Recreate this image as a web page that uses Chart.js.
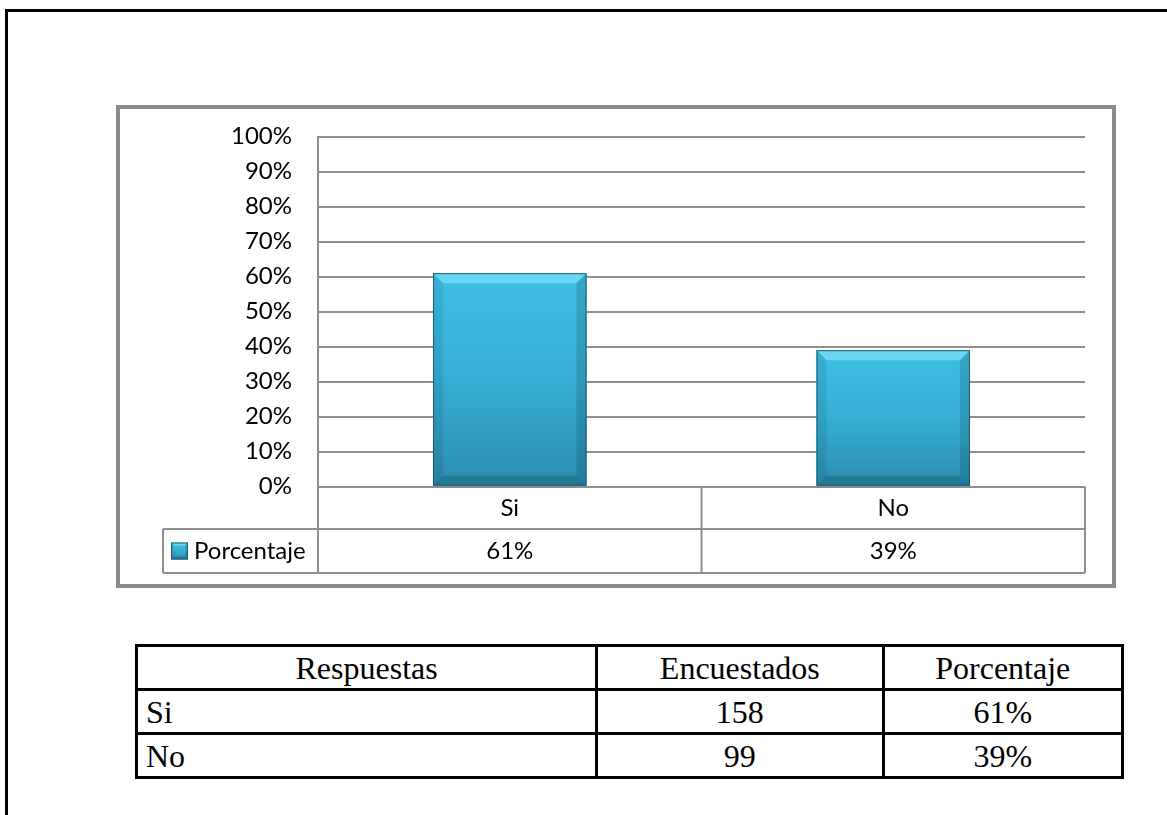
<!DOCTYPE html>
<html lang="es">
<head>
<meta charset="utf-8">
<title>Porcentaje</title>
<script src="https://cdn.jsdelivr.net/npm/chart.js@4/dist/chart.umd.min.js"></script>
<style>
  html, body { margin: 0; padding: 0; background: #fff; width: 1167px; height: 815px; overflow: hidden; }
  .page-frame {
    position: absolute; left: 5px; top: 9px; width: 1300px; height: 900px;
    border-left: 3px solid #000; border-top: 3px solid #000; box-sizing: border-box;
  }
  .chart-frame {
    position: absolute; left: 116px; top: 105px; width: 1000px; height: 483px;
    border: 4px solid #8c8c8c; box-sizing: border-box; background: #fff;
  }
  .chart-frame canvas { position: absolute; left: 0; top: 0; }
  table.datos {
    position: absolute; left: 135px; top: 644px; width: 989px;
    border-collapse: collapse; font-family: "Liberation Serif", "Times New Roman", serif;
    font-size: 32px; color: #000;
  }
  table.datos td { border: 3px solid #000; height: 44px; padding: 0 8px; text-align: center; vertical-align: middle; line-height: 1; box-sizing: border-box; }
  table.datos td.izq { text-align: left; }
</style>
</head>
<body>
<div class="page-frame"></div>
<div class="chart-frame"><canvas id="grafico" width="992" height="475"></canvas></div>
<table class="datos">
  <colgroup><col style="width:462px"><col style="width:287px"><col style="width:240px"></colgroup>
  <tbody id="tabla-cuerpo"></tbody>
</table>
<script>
// Respuestas de la encuesta
const categorias = ['Si', 'No'];
const encuestados = [158, 99];
const porcentajes = [61, 39];
const serieNombre = 'Porcentaje';
const encabezados = ['Respuestas', 'Encuestados', 'Porcentaje'];

const FUENTE = 'Lato, "Open Sans", sans-serif';
const GRIS = '#8e8e8e';

// Tabla de resultados bajo el gráfico
const cuerpo = document.getElementById('tabla-cuerpo');
const filaEnc = document.createElement('tr');
encabezados.forEach(t => { const td = document.createElement('td'); td.textContent = t; filaEnc.appendChild(td); });
cuerpo.appendChild(filaEnc);
categorias.forEach((c, i) => {
  const tr = document.createElement('tr');
  [[c, 'izq'], [String(encuestados[i]), ''], [porcentajes[i] + '%', '']].forEach(([t, cls]) => {
    const td = document.createElement('td'); td.textContent = t; if (cls) td.className = cls; tr.appendChild(td);
  });
  cuerpo.appendChild(tr);
});

// Relleno con degradado y bisel de las columnas
function dibujarBisel(ctx, l, t, r, b, bev) {
  const g = ctx.createLinearGradient(0, t, 0, b);
  g.addColorStop(0, '#40c0e4');
  g.addColorStop(0.5, '#37aed3');
  g.addColorStop(1, '#2b8dad');
  ctx.fillStyle = g;
  ctx.fillRect(l, t, r - l, b - t);
  // cara superior
  ctx.fillStyle = 'rgba(140,235,255,0.55)';
  ctx.beginPath(); ctx.moveTo(l, t); ctx.lineTo(r, t); ctx.lineTo(r - bev, t + bev); ctx.lineTo(l + bev, t + bev); ctx.closePath(); ctx.fill();
  // caras laterales
  ctx.fillStyle = 'rgba(0,40,60,0.10)';
  ctx.beginPath(); ctx.moveTo(l, t); ctx.lineTo(l + bev, t + bev); ctx.lineTo(l + bev, b - bev); ctx.lineTo(l, b); ctx.closePath(); ctx.fill();
  ctx.fillStyle = 'rgba(0,40,60,0.16)';
  ctx.beginPath(); ctx.moveTo(r, t); ctx.lineTo(r - bev, t + bev); ctx.lineTo(r - bev, b - bev); ctx.lineTo(r, b); ctx.closePath(); ctx.fill();
  // cara inferior
  ctx.fillStyle = 'rgba(0,40,60,0.22)';
  ctx.beginPath(); ctx.moveTo(l, b); ctx.lineTo(r, b); ctx.lineTo(r - bev, b - bev); ctx.lineTo(l + bev, b - bev); ctx.closePath(); ctx.fill();
  ctx.strokeStyle = 'rgba(25,85,105,0.9)';
  ctx.lineWidth = 1;
  ctx.strokeRect(l + 0.5, t + 0.5, r - l - 1, b - t - 1);
}

const estiloColumnas = {
  id: 'estiloColumnas',
  afterDatasetsDraw(chart) {
    const ctx = chart.ctx;
    const meta = chart.getDatasetMeta(0);
    ctx.save();
    meta.data.forEach(bar => {
      const p = bar.getProps(['x', 'y', 'base', 'width'], true);
      dibujarBisel(ctx, p.x - p.width / 2, p.y, p.x + p.width / 2, p.base, 10);
    });
    ctx.restore();
  }
};

// Tabla de datos del gráfico (fila de valores y leyenda)
const tablaDatos = {
  id: 'tablaDatos',
  afterDraw(chart) {
    const ctx = chart.ctx;
    const area = chart.chartArea;
    const xs = chart.scales.x;
    const fila1 = area.bottom + 42.3;
    const fila2 = fila1 + 44;
    const izqLeyenda = 43;
    ctx.save();
    ctx.strokeStyle = GRIS;
    ctx.lineWidth = 2;
    ctx.beginPath();
    // verticales
    ctx.moveTo(area.left, area.bottom); ctx.lineTo(area.left, fila2);
    ctx.moveTo(area.right, area.bottom); ctx.lineTo(area.right, fila2);
    for (let i = 1; i < categorias.length; i++) {
      const xm = (xs.getPixelForValue(i - 1) + xs.getPixelForValue(i)) / 2;
      ctx.moveTo(xm, area.bottom); ctx.lineTo(xm, fila2);
    }
    ctx.moveTo(izqLeyenda, fila1); ctx.lineTo(izqLeyenda, fila2);
    // horizontales
    ctx.moveTo(izqLeyenda, fila1); ctx.lineTo(area.right, fila1);
    ctx.moveTo(izqLeyenda, fila2); ctx.lineTo(area.right, fila2);
    ctx.stroke();

    // valores
    ctx.fillStyle = '#000';
    ctx.font = '24px ' + FUENTE;
    ctx.textAlign = 'center';
    ctx.textBaseline = 'middle';
    const yc = (fila1 + fila2) / 2;
    porcentajes.forEach((v, i) => ctx.fillText(v + '%', xs.getPixelForValue(i), yc));

    // leyenda
    dibujarBisel(ctx, 51, yc - 8.5, 68, yc + 8.5, 3);
    ctx.fillStyle = '#000';
    ctx.textAlign = 'left';
    ctx.fillText(serieNombre, 74, yc);
    ctx.restore();
  }
};

new Chart(document.getElementById('grafico'), {
  type: 'bar',
  data: {
    labels: categorias,
    datasets: [{
      label: serieNombre,
      data: porcentajes,
      backgroundColor: '#37aed3',
      borderWidth: 0,
      barPercentage: 0.4,
      categoryPercentage: 1.0
    }]
  },
  options: {
    responsive: false,
    animation: false,
    layout: { padding: { top: 27.7, right: 27, left: 0, bottom: 0 } },
    plugins: { legend: { display: false }, tooltip: { enabled: false } },
    scales: {
      x: {
        grid: { display: false, drawTicks: false },
        border: { display: false },
        ticks: { color: '#000', font: { family: FUENTE, size: 24 }, padding: 7 },
        afterFit: s => { s.height = 97.3; }
      },
      y: {
        min: 0, max: 100,
        grid: { color: GRIS, lineWidth: 2, drawTicks: true, tickLength: 26, tickColor: 'rgba(0,0,0,0)' },
        border: { display: true, color: GRIS, width: 2 },
        ticks: { stepSize: 10, color: '#000', font: { family: FUENTE, size: 24 }, padding: 0, callback: v => v + '%' },
        afterFit: s => { s.width = 198; }
      }
    }
  },
  plugins: [estiloColumnas, tablaDatos]
});
</script>
</body>
</html>
